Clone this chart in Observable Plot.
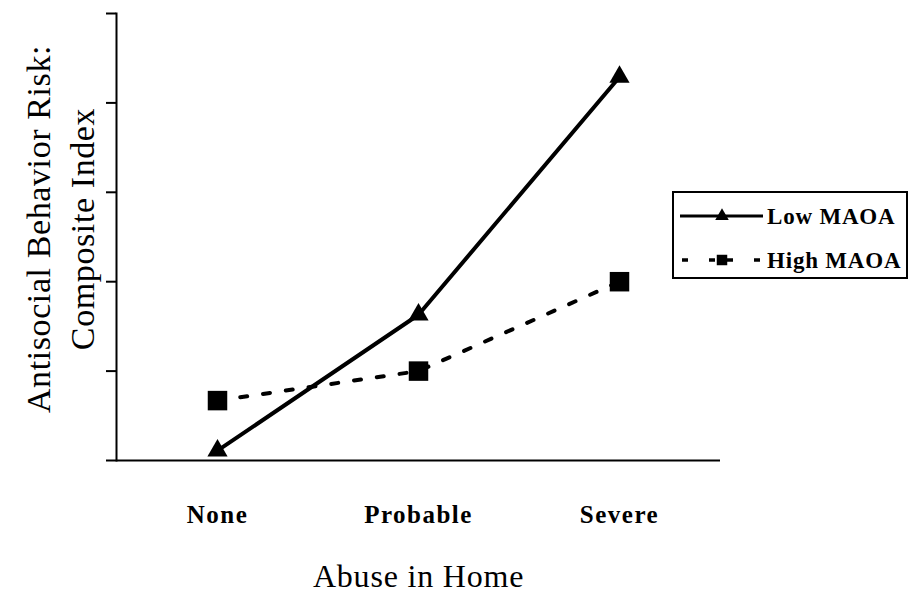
<!DOCTYPE html>
<html><head><meta charset="utf-8">
<script src="https://cdn.jsdelivr.net/npm/d3@7"></script>
<script src="https://cdn.jsdelivr.net/npm/@observablehq/plot@0.6"></script>
<style>
html,body{margin:0;padding:0;background:#fff;}
#wrap{position:relative;width:909px;height:595px;font-family:"Liberation Serif",serif;}
#legend{position:absolute;left:672px;top:191px;}
#wrap svg g[aria-label="x-axis tick label"] text{letter-spacing:1.5px;}
#wrap svg .ytitle text{letter-spacing:0.6px;}
#wrap svg .xtitle text{letter-spacing:0.8px;}
#legend text{letter-spacing:0.8px;}
</style></head><body><div id="wrap"></div>
<script>
const categories = ["None", "Probable", "Severe"];
const seriesNames = ["Low MAOA", "High MAOA"];
const lowMAOA = [0.11, 1.63, 4.29];
const highMAOA = [0.67, 1.0, 2.0];
const yTicks = [0, 1, 2, 3, 4, 5];
const xTitle = "Abuse in Home";
const yTitle = "Antisocial Behavior Risk:\nComposite Index";

const lowData = categories.map((c, i) => ({abuse: c, series: seriesNames[0], value: lowMAOA[i]}));
const highData = categories.map((c, i) => ({abuse: c, series: seriesNames[1], value: highMAOA[i]}));

const chart = Plot.plot({
  width: 909, height: 595,
  marginLeft: 116, marginRight: 189, marginTop: 13, marginBottom: 135,
  style: {fontFamily: "'Liberation Serif', serif", color: "#000", background: "#fff"},
  x: {type: "point", domain: categories, padding: 0.5},
  y: {domain: [0, 5]},
  marks: [
    Plot.axisY({ticks: yTicks, tickSize: 10, tickFormat: () => "", strokeWidth: 2, label: null}),
    Plot.frame({anchor: "left", strokeWidth: 2}),
    Plot.ruleY([0], {strokeWidth: 2}),
    Plot.axisX({tickSize: 0, tickPadding: 45, fontSize: 25, fontWeight: "bold", label: null}),
    Plot.text([xTitle], {frameAnchor: "bottom", dy: 116, fontSize: 32, lineAnchor: "middle", className: "xtitle"}),
    Plot.text([yTitle], {frameAnchor: "left", textAnchor: "middle", dx: -59, dy: -8, rotate: -90, fontSize: 34, lineAnchor: "middle", lineHeight: 1.3, className: "ytitle"}),
    Plot.line(highData, {x: "abuse", y: "value", stroke: "#000", strokeWidth: 4, strokeDasharray: "7,16"}),
    Plot.line(lowData, {x: "abuse", y: "value", stroke: "#000", strokeWidth: 4}),
    Plot.dot(highData, {x: "abuse", y: "value", symbol: "square", r: 11, fill: "#000"}),
    Plot.dot(lowData, {x: "abuse", y: "value", symbol: "triangle", r: 7.5, fill: "#000"})
  ]
});
const wrap = document.getElementById("wrap");
wrap.appendChild(chart);

// legend
const W = 236, H = 88;
const leg = d3.create("svg").attr("id", "legend").attr("width", W).attr("height", H);
leg.append("rect").attr("x", 1).attr("y", 1).attr("width", W - 2).attr("height", H - 2)
  .attr("fill", "#fff").attr("stroke", "#000").attr("stroke-width", 2);
const rows = [{name: seriesNames[0], cy: 25, sym: d3.symbolTriangle, size: 80, dashed: false},
              {name: seriesNames[1], cy: 69, sym: d3.symbolSquare, size: 110, dashed: true}];
for (const r of rows) {
  if (r.dashed) {
    for (const [a, b] of [[10, 16], [37, 43], [55, 61], [82, 88]])
      leg.append("line").attr("x1", a).attr("x2", b).attr("y1", r.cy).attr("y2", r.cy).attr("stroke", "#000").attr("stroke-width", 3.5);
  } else {
    leg.append("line").attr("x1", 8).attr("x2", 91).attr("y1", r.cy).attr("y2", r.cy).attr("stroke", "#000").attr("stroke-width", 3);
  }
  leg.append("path").attr("d", d3.symbol(r.sym, r.size)()).attr("transform", `translate(50,${r.cy})`).attr("fill", "#000");
  leg.append("text").attr("x", 95).attr("y", r.cy + 8).attr("font-size", 23).attr("font-weight", "bold")
    .attr("font-family", "'Liberation Serif', serif").text(r.name);
}
wrap.appendChild(leg.node());
</script></body></html>
